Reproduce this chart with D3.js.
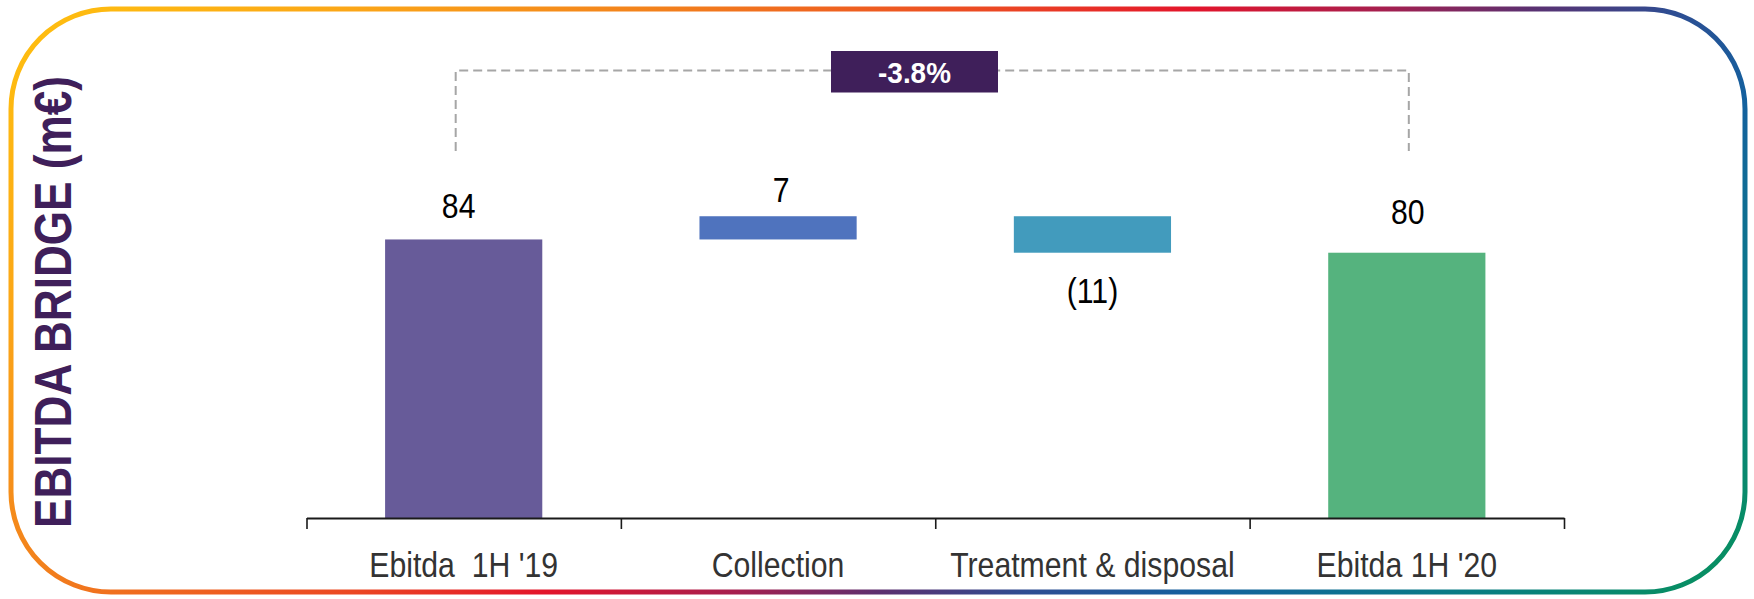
<!DOCTYPE html>
<html>
<head>
<meta charset="utf-8">
<script src="https://cdn.jsdelivr.net/npm/d3@7"></script>
<style>
  html, body { margin: 0; padding: 0; background: #ffffff; }
  svg { display: block; }
  .narrow { font-family: "Liberation Sans", Arial, sans-serif; }
</style>
</head>
<body>
<svg id="chart" width="1754" height="599"></svg>
<script>
// EBITDA bridge, 1H '19 -> 1H '20 (m€)
const categories = ["Ebitda  1H '19", "Collection", "Treatment & disposal", "Ebitda 1H '20"];
const kinds      = ["total", "delta", "delta", "total"];
const values     = [84, 7, -11, 80];
const valueLabels = ["84", "7", "(11)", "80"];
const barColors  = ["#675B99", "#4F73BE", "#429BBD", "#55B37E"];
const changeLabel = "-3.8%";
const titleText = "EBITDA BRIDGE (m€)";

// frame gradient stops
const frameStops = [
  [0.00, "#FFC20E"], [0.15, "#FBA617"], [0.28, "#F2801C"], [0.42, "#EB4723"],
  [0.50, "#E3152B"], [0.58, "#A51F4F"], [0.64, "#5B3070"], [0.70, "#2E4D92"],
  [0.77, "#14609E"], [0.87, "#0A7A88"], [1.00, "#07935A"]
];

const svg = d3.select("#chart");
const NARROW = 0.84; // horizontal squeeze for the condensed label face

// ---- rounded frame with diagonal gradient ----
const defs = svg.append("defs");
const grad = defs.append("linearGradient")
  .attr("id", "frameGrad")
  .attr("gradientUnits", "userSpaceOnUse")
  .attr("x1", 0).attr("y1", 0).attr("x2", 1077).attr("y2", 1196);
grad.selectAll("stop").data(frameStops).join("stop")
  .attr("offset", d => d[0]).attr("stop-color", d => d[1]);

svg.append("rect")
  .attr("x", 11).attr("y", 9).attr("width", 1734).attr("height", 583)
  .attr("rx", 100).attr("ry", 100)
  .attr("fill", "none").attr("stroke", "url(#frameGrad)").attr("stroke-width", 5);

// ---- vertical title ----
svg.append("text")
  .attr("transform", "translate(71,302) rotate(-90)")
  .attr("text-anchor", "middle")
  .attr("font-family", "'Liberation Sans', Arial, sans-serif")
  .attr("font-weight", "bold")
  .attr("font-size", 51)
  .attr("textLength", 452)
  .attr("lengthAdjust", "spacingAndGlyphs")
  .attr("fill", "#3F1F5A")
  .text(titleText);

// ---- scales ----
const axisLeft = 306.5, axisRight = 1564, baseY = 518;
const x = d3.scaleBand().domain(categories).range([axisLeft, axisRight])
  .paddingInner(0.5).paddingOuter(0.25);
const y = d3.scaleLinear().domain([0, 100]).range([baseY, 186.4]);

// waterfall spans
let running = 0;
const bars = categories.map((c, i) => {
  let lo, hi;
  if (kinds[i] === "total") { lo = 0; hi = values[i]; running = values[i]; }
  else { const start = running; running += values[i]; lo = Math.min(start, running); hi = Math.max(start, running); }
  return { cat: c, lo, hi, value: values[i], label: valueLabels[i], color: barColors[i], kind: kinds[i] };
});

// ---- bars ----
svg.append("g").selectAll("rect").data(bars).join("rect")
  .attr("x", d => x(d.cat))
  .attr("y", d => y(d.hi))
  .attr("width", x.bandwidth())
  .attr("height", d => y(d.lo) - y(d.hi))
  .attr("fill", d => d.color);

// ---- axis with ticks at category boundaries ----
const edge = d3.scaleLinear().domain([0, categories.length]).range([axisLeft, axisRight]);
const axisG = svg.append("g").attr("transform", `translate(0,${baseY})`)
  .call(d3.axisBottom(edge).tickValues(d3.range(categories.length + 1)).tickSize(11).tickSizeOuter(0).tickFormat(""));
axisG.select(".domain").attr("stroke", "#1a1a1a").attr("stroke-width", 2);
axisG.selectAll(".tick line").attr("stroke", "#1a1a1a").attr("stroke-width", 1.6);

// ---- category labels ----
svg.append("g").selectAll("text").data(categories).join("text")
  .attr("class", "narrow")
  .attr("transform", d => `translate(${x(d) + x.bandwidth() / 2},577) scale(${NARROW},1)`)
  .attr("text-anchor", "middle")
  .attr("font-size", 36)
  .attr("fill", "#333333")
  .style("white-space", "pre")
  .text(d => d);

// ---- value labels (above the bar top, or below the bar for decreases) ----
const labelGap = [21, 14, -50, 29];
const labelShift = [-5, 3, 0, 1];
svg.append("g").selectAll("text").data(bars).join("text")
  .attr("class", "narrow")
  .attr("transform", (d, i) => {
    const ly = d.value < 0 ? y(d.lo) - labelGap[i] : y(d.hi) - labelGap[i];
    return `translate(${x(d.cat) + x.bandwidth() / 2 + labelShift[i]},${ly}) scale(${NARROW},1)`;
  })
  .attr("text-anchor", "middle")
  .attr("font-size", 36)
  .attr("fill", "#000000")
  .text(d => d.label);

// ---- change bracket between the two totals ----
const xStart = x(categories[0]) + x.bandwidth() / 2 - 8;
const xEnd = x(categories[3]) + x.bandwidth() / 2 + 2;
const bracketTop = 70.5, bracketBottom = 151;
svg.append("path")
  .attr("d", `M${xStart},${bracketBottom}V${bracketTop}H${xEnd}V${bracketBottom}`)
  .attr("fill", "none")
  .attr("stroke", "#A6A6A6")
  .attr("stroke-width", 2)
  .attr("stroke-dasharray", "9,5");

// ---- change badge ----
const badgeCx = 914.5, badgeW = 167, badgeH = 41.5;
svg.append("rect")
  .attr("x", badgeCx - badgeW / 2).attr("y", bracketTop - 19.5)
  .attr("width", badgeW).attr("height", badgeH)
  .attr("fill", "#3F1F5A");
svg.append("text")
  .attr("class", "narrow")
  .attr("transform", `translate(${badgeCx},83) scale(0.93,1)`)
  .attr("text-anchor", "middle")
  .attr("font-size", 30)
  .attr("font-weight", "bold")
  .attr("fill", "#ffffff")
  .text(changeLabel);
</script>
</body>
</html>
